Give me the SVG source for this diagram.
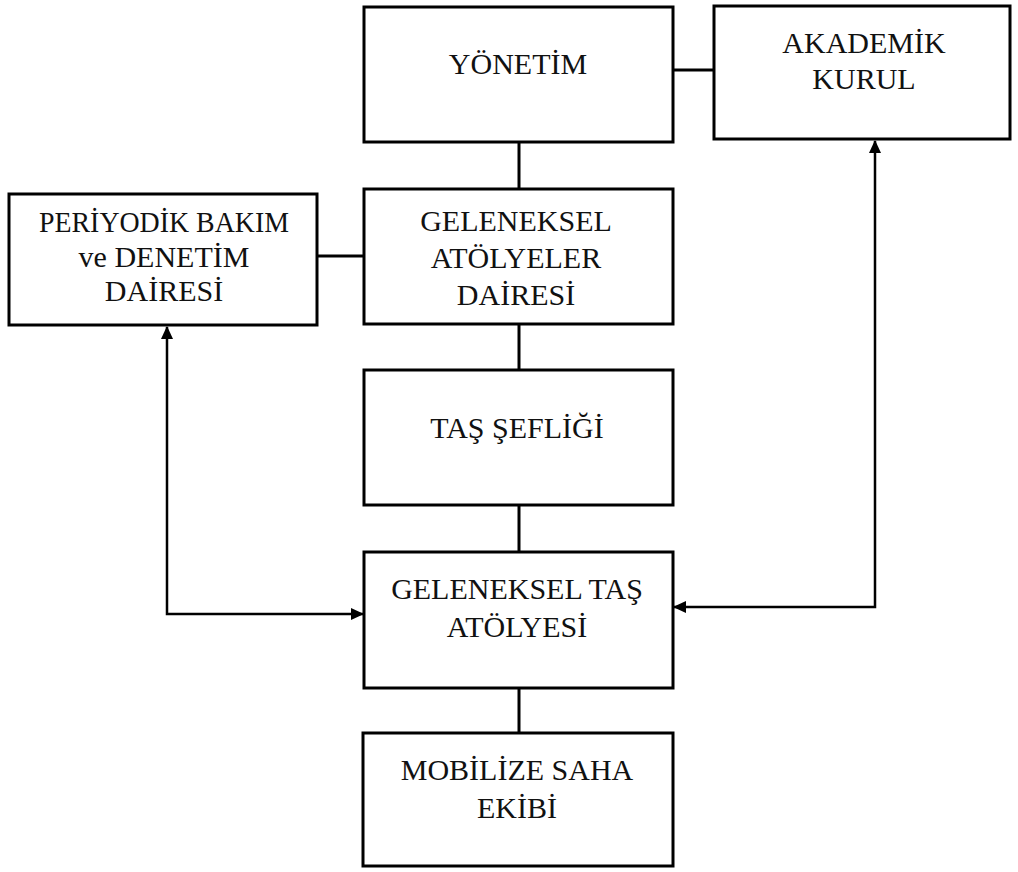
<svg xmlns="http://www.w3.org/2000/svg" width="1018" height="872" viewBox="0 0 1018 872">
<style>
.box{fill:#fff;stroke:#000;stroke-width:3}
.ln{fill:none;stroke:#000;stroke-width:3}
.ar{fill:none;stroke:#000;stroke-width:2.5}
text{font-family:"Liberation Serif","Times New Roman",serif;font-size:30px;fill:#111;text-anchor:middle}
</style>
<defs>
<marker id="ah" viewBox="0 0 13 12" refX="12" refY="6" markerWidth="13" markerHeight="12" markerUnits="userSpaceOnUse" orient="auto-start-reverse">
<path d="M0,0 L13,6 L0,12 Z" fill="#000"/>
</marker>
</defs>
<g id="connectors">
<line class="ln" x1="673" y1="70" x2="714" y2="70"/>
<line class="ln" x1="519" y1="142" x2="519" y2="189"/>
<line class="ln" x1="317" y1="256" x2="363" y2="256"/>
<line class="ln" x1="519" y1="324" x2="519" y2="370"/>
<line class="ln" x1="519" y1="505" x2="519" y2="552"/>
<line class="ln" x1="519" y1="688" x2="519" y2="733"/>
<polyline class="ar" points="167,327 167,614 363,614" marker-start="url(#ah)" marker-end="url(#ah)"/>
<polyline class="ar" points="674,607 875,607 875,141" marker-start="url(#ah)" marker-end="url(#ah)"/>
</g>
<g id="yonetim">
<rect class="box" x="364" y="7" width="309" height="135"/>
<text x="518" y="74">YÖNETİM</text>
</g>
<g id="akademik">
<rect class="box" x="714" y="6" width="296" height="133"/>
<text x="864" y="53">AKADEMİK</text>
<text x="864" y="89">KURUL</text>
</g>
<g id="periyodik">
<rect class="box" x="9" y="194" width="308" height="131"/>
<text x="164" y="232" textLength="250" lengthAdjust="spacingAndGlyphs">PERİYODİK BAKIM</text>
<text x="164" y="267">ve DENETİM</text>
<text x="164" y="301">DAİRESİ</text>
</g>
<g id="geleneksel-atolyeler">
<rect class="box" x="364" y="189" width="309" height="135"/>
<text x="516" y="231">GELENEKSEL</text>
<text x="516" y="268">ATÖLYELER</text>
<text x="516" y="305">DAİRESİ</text>
</g>
<g id="tas-sefligi">
<rect class="box" x="364" y="370" width="309" height="135"/>
<text x="517" y="438">TAŞ ŞEFLİĞİ</text>
</g>
<g id="geleneksel-tas">
<rect class="box" x="364" y="552" width="309" height="136"/>
<text x="517" y="599">GELENEKSEL TAŞ</text>
<text x="517" y="637">ATÖLYESİ</text>
</g>
<g id="mobilize">
<rect class="box" x="363" y="733" width="310" height="133"/>
<text x="517" y="780">MOBİLİZE SAHA</text>
<text x="517" y="818">EKİBİ</text>
</g>
</svg>
